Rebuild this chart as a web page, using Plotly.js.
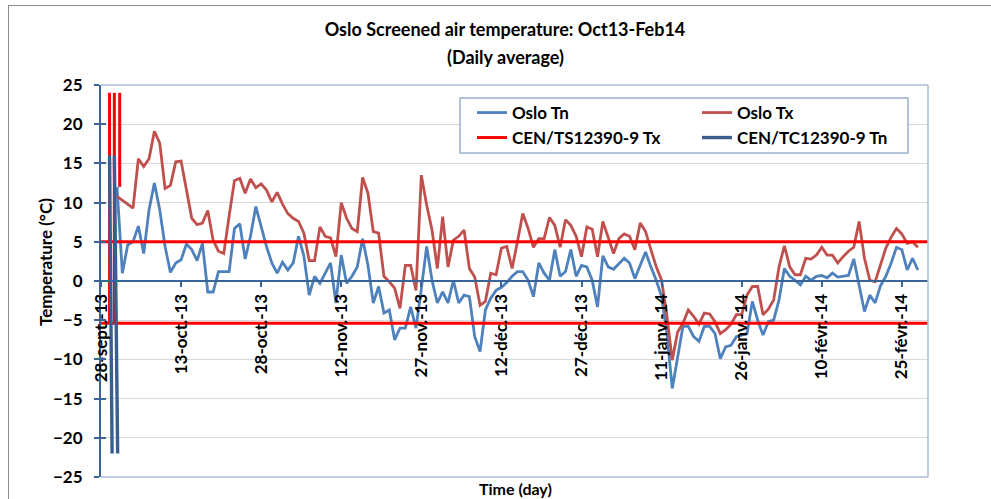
<!DOCTYPE html>
<html>
<head>
<meta charset="utf-8">
<script src="https://cdn.plot.ly/plotly-3.0.1.min.js"></script>
<style>
  html, body { margin: 0; padding: 0; background: #fff; overflow: hidden; }
  #chart { width: 991px; height: 499px; position: relative; }
  #frame { position: absolute; left: 8px; top: 5px; width: 1100px; height: 600px;
           border-left: 1.5px solid #8a8a8a; border-top: 1.5px solid #8a8a8a; pointer-events: none; }
</style>
</head>
<body>
<div id="chart"></div>
<div id="frame"></div>
<script>
// ---------------- data ----------------
const startDate = '2013-10-01';            // first daily value
const axisStartDate = '2013-09-28';        // left edge of the time axis

// Oslo daily maximum (Tx), 1 Oct 2013 .. 28 Feb 2014
const osloTx = [
  10.8, 10.3, 9.9, 9.3, 15.6, 14.6, 15.6, 19.1, 17.6, 11.8,
  12.2, 15.2, 15.3, 11.5, 8.0, 7.2, 7.4, 9.0, 5.2, 3.8,
  3.5, 8.3, 12.8, 13.1, 11.2, 13.0, 11.9, 12.4, 11.6, 10.1,
  11.3, 9.8, 8.6, 8.0, 7.6, 6.1, 2.6, 2.6, 6.9, 5.7,
  5.5, 3.1, 10.0, 8.0, 6.7, 6.3, 13.2, 11.2, 6.3, 6.1,
  0.6, -0.1, -0.9, -3.5, 2.0, 2.0, -1.2, 13.5, 9.7, 6.5,
  1.6, 8.2, 1.8, 5.2, 5.7, 6.5, 1.6, 0.5, -3.1, -2.6,
  1.0, 0.8, 4.2, 4.4, 1.6, 5.0, 8.6, 6.7, 4.3, 5.4,
  5.4, 8.1, 7.1, 4.3, 7.8, 7.1, 5.7, 3.1, 6.9, 6.6,
  3.1, 7.6, 5.6, 3.5, 5.4, 6.0, 5.7, 4.0, 7.4, 6.3,
  4.0, 1.8, 0.1, -4.5, -10.1, -6.5, -5.4, -3.7, -4.5, -5.5,
  -4.1, -4.2, -5.2, -6.7, -6.2, -5.5, -4.3, -4.3, -1.8, -0.7,
  -0.7, -4.3, -3.6, -2.4, 1.8, 4.5, 1.8, 0.8, 0.8, 2.9,
  2.8, 3.3, 4.3, 3.3, 3.3, 2.3, 3.1, 3.8, 4.3, 7.6,
  2.9, 0.1, -0.1, 2.0, 4.2, 5.6, 6.7, 6.0, 4.8, 5.0,
  4.3
];

// Oslo daily minimum (Tn), 1 Oct 2013 .. 28 Feb 2014
const osloTn = [
  12.0, 1.0, 4.6, 5.0, 7.0, 3.5, 9.1, 12.5, 9.1, 4.4,
  1.1, 2.3, 2.7, 4.7, 4.0, 2.6, 4.8, -1.4, -1.4, 1.2,
  1.2, 1.2, 6.7, 7.3, 2.8, 5.7, 9.5, 6.9, 4.4, 2.3,
  1.0, 2.4, 1.4, 2.3, 5.7, 3.2, -1.8, 0.6, -0.3, 1.0,
  2.3, -2.8, 3.3, -0.3, 0.6, 1.8, 5.4, 2.0, -2.8, -0.7,
  -4.1, -3.7, -7.5, -6.0, -6.0, -3.3, -6.0, -1.0, 4.4, 0.1,
  -2.8, -1.4, -2.8, 0.1, -2.8, -1.8, -2.0, -7.1, -9.0, -3.7,
  -2.2, -1.2, -0.8, -0.2, 0.6, 1.2, 1.2, 0.1, -2.0, 2.3,
  1.0, 0.1, 4.0, 0.6, 1.2, 4.0, 0.6, 2.0, 1.8, 0.1,
  -3.3, 3.2, 1.8, 1.5, 2.2, 2.9, 2.3, 0.3, 2.0, 3.7,
  1.8, 0.1, -2.0, -6.7, -13.7, -9.6, -5.8, -5.8, -7.1, -7.7,
  -5.8, -5.8, -6.7, -9.9, -8.4, -8.2, -7.1, -6.9, -6.7, -2.6,
  -5.0, -6.9, -5.2, -5.0, -2.4, 1.6, 0.6, 0.1, -0.5, 0.6,
  0.1, 0.6, 0.7, 0.4, 1.0, 0.5, 0.6, 0.7, 2.8, -0.5,
  -3.9, -1.8, -2.8, -0.6, 0.6, 2.3, 4.3, 4.0, 1.4, 2.9,
  1.4
];

// CEN/TS 12390-9 reference lines (day offsets from axisStartDate, temperature)
const cenTxDays = [1.6, 1.6, null, 2.5, 2.5, null, 3.5, 3.5, null, 0, 154.9, null, 0, 154.9];
const cenTxVals = [24, -5.4, null, 24, -5.4, null, 24, 12, null, 5, 5, null, -5.4, -5.4];
const cenTnDays = [1.6, 2.08, null, 2.5, 3.12];
const cenTnVals = [16, -22, null, 16, -22];

// axis ticks
const tickDays = [0, 15, 30, 45, 60, 75, 90, 105, 120, 135, 150];
const tickLabels = ['28-sept.-13', '13-oct.-13', '28-oct.-13', '12-nov.-13', '27-nov.-13',
  '12-déc.-13', '27-déc.-13', '11-janv.-14', '26-janv.-14', '10-févr.-14', '25-févr.-14'];
const yTicks = [-25, -20, -15, -10, -5, 0, 5, 10, 15, 20, 25];
const axisEndDay = 154.9;

// ---------------- helpers ----------------
const DAY = 86400000;
const base = Date.parse(axisStartDate + 'T00:00:00Z');
function dayToDate(d) {
  if (d === null) return null;
  return new Date(base + d * DAY).toISOString().replace('T', ' ').replace('Z', '');
}
const first = (Date.parse(startDate + 'T00:00:00Z') - base) / DAY;
const dates = osloTx.map((_, i) => dayToDate(first + i));

const FONT = 'Lato, "Open Sans", sans-serif';
const AX = '#3B6496';
const px = (p) => (p - 101) / 827;          // pixel -> paper x
const py = (p) => (477 - p) / 392;          // pixel -> paper y

const traces = [
  { type: 'scatter', mode: 'lines', name: 'Oslo Tn', x: dates, y: osloTn,
    line: { color: '#4F81BD', width: 2.8 }, legend: 'legend' },
  { type: 'scatter', mode: 'lines', name: 'Oslo Tx', x: dates, y: osloTx,
    line: { color: '#C0504D', width: 2.8 }, legend: 'legend2' },
  { type: 'scatter', mode: 'lines', name: 'CEN/TS12390-9 Tx', x: cenTxDays.map(dayToDate), y: cenTxVals,
    line: { color: '#FF0000', width: 3 }, connectgaps: false, legend: 'legend3' },
  { type: 'scatter', mode: 'lines', name: 'CEN/TC12390-9 Tn', x: cenTnDays.map(dayToDate), y: cenTnVals,
    line: { color: '#3A5F8F', width: 3.4 }, connectgaps: false, legend: 'legend4' },
  { type: 'scatter', mode: 'lines', x: [], y: [], yaxis: 'y2', showlegend: false, hoverinfo: 'skip' }
];

const legFont = { family: FONT, size: 17, weight: 'bold', color: '#000' };
function leg(xp, yp) {
  return { x: px(xp), y: py(yp), xanchor: 'left', yanchor: 'middle', bgcolor: 'rgba(0,0,0,0)',
           borderwidth: 0, font: legFont, itemwidth: 30, tracegroupgap: 0 };
}

const layout = {
  width: 991, height: 499,
  margin: { l: 101, r: 63, t: 85, b: 22, pad: 0 },
  paper_bgcolor: '#fff', plot_bgcolor: '#fff',
  showlegend: true,
  title: { text: 'Oslo Screened air temperature: Oct13-Feb14', x: 505 / 991, xanchor: 'center',
           y: 1 - 30 / 499, yanchor: 'middle', font: { family: FONT, size: 18, weight: 'bold', color: '#000' } },
  xaxis: {
    type: 'date', range: [dayToDate(0), dayToDate(axisEndDay)],
    tickmode: 'array', tickvals: tickDays.map(dayToDate), ticktext: tickLabels, tickangle: -90,
    anchor: 'free', position: 0.5,
    showline: true, linecolor: AX, linewidth: 2,
    ticks: 'outside', ticklen: 5, tickwidth: 2, tickcolor: AX,
    showgrid: false, zeroline: false,
    tickfont: { family: FONT, size: 17, weight: 'bold', color: '#000' }
  },
  yaxis: {
    range: [-25, 25], tickmode: 'array', tickvals: yTicks,
    showgrid: true, gridcolor: '#D9D9D9', gridwidth: 1, zeroline: false,
    showline: true, linecolor: AX, linewidth: 2,
    ticks: 'outside', ticklen: 5, tickwidth: 2, tickcolor: AX,
    ticklabelstandoff: 8,
    tickfont: { family: FONT, size: 17, weight: 'bold', color: '#000' }
  },
  yaxis2: {
    overlaying: 'y', side: 'left', range: [-25, 25], tickmode: 'array', tickvals: yTicks,
    ticks: 'inside', ticklen: 5, tickwidth: 2, tickcolor: AX,
    showticklabels: false, showgrid: false, zeroline: false, showline: false
  },
  legend: leg(472, 113),
  legend2: leg(697, 113),
  legend3: leg(472, 138),
  legend4: leg(697, 138),
  shapes: [
    { type: 'line', xref: 'paper', yref: 'paper', x0: 0, x1: 1, y0: 1, y1: 1, line: { color: '#A9BCD5', width: 1.5 }, layer: 'above' },
    { type: 'line', xref: 'paper', yref: 'paper', x0: 1, x1: 1, y0: 0, y1: 1, line: { color: '#A9BCD5', width: 1.5 }, layer: 'above' },
    { type: 'line', xref: 'paper', yref: 'paper', x0: 0, x1: 1, y0: 0, y1: 0, line: { color: '#A9BCD5', width: 1.5 }, layer: 'above' },
    { type: 'rect', xref: 'paper', yref: 'paper', x0: px(460), x1: px(908), y0: py(153), y1: py(98),
      fillcolor: '#fff', line: { color: '#9BB1CD', width: 1.5 }, layer: 'above' }
  ],
  annotations: [
    { text: '(Daily average)', xref: 'paper', yref: 'paper', x: px(505), y: py(57), xanchor: 'center', yanchor: 'middle',
      showarrow: false, font: { family: FONT, size: 18, weight: 'bold', color: '#000' } },
    { text: 'Temperature (°C)', xref: 'paper', yref: 'paper', x: px(45), y: py(262), xanchor: 'center', yanchor: 'middle',
      textangle: -90, showarrow: false, font: { family: FONT, size: 17, weight: 'bold', color: '#000' } },
    { text: 'Time (day)', xref: 'paper', yref: 'paper', x: px(515), y: py(488), xanchor: 'center', yanchor: 'middle',
      showarrow: false, font: { family: FONT, size: 16, weight: 'bold', color: '#000' } }
  ]
};

Plotly.newPlot('chart', traces, layout, { staticPlot: true, displayModeBar: false });
</script>
</body>
</html>
